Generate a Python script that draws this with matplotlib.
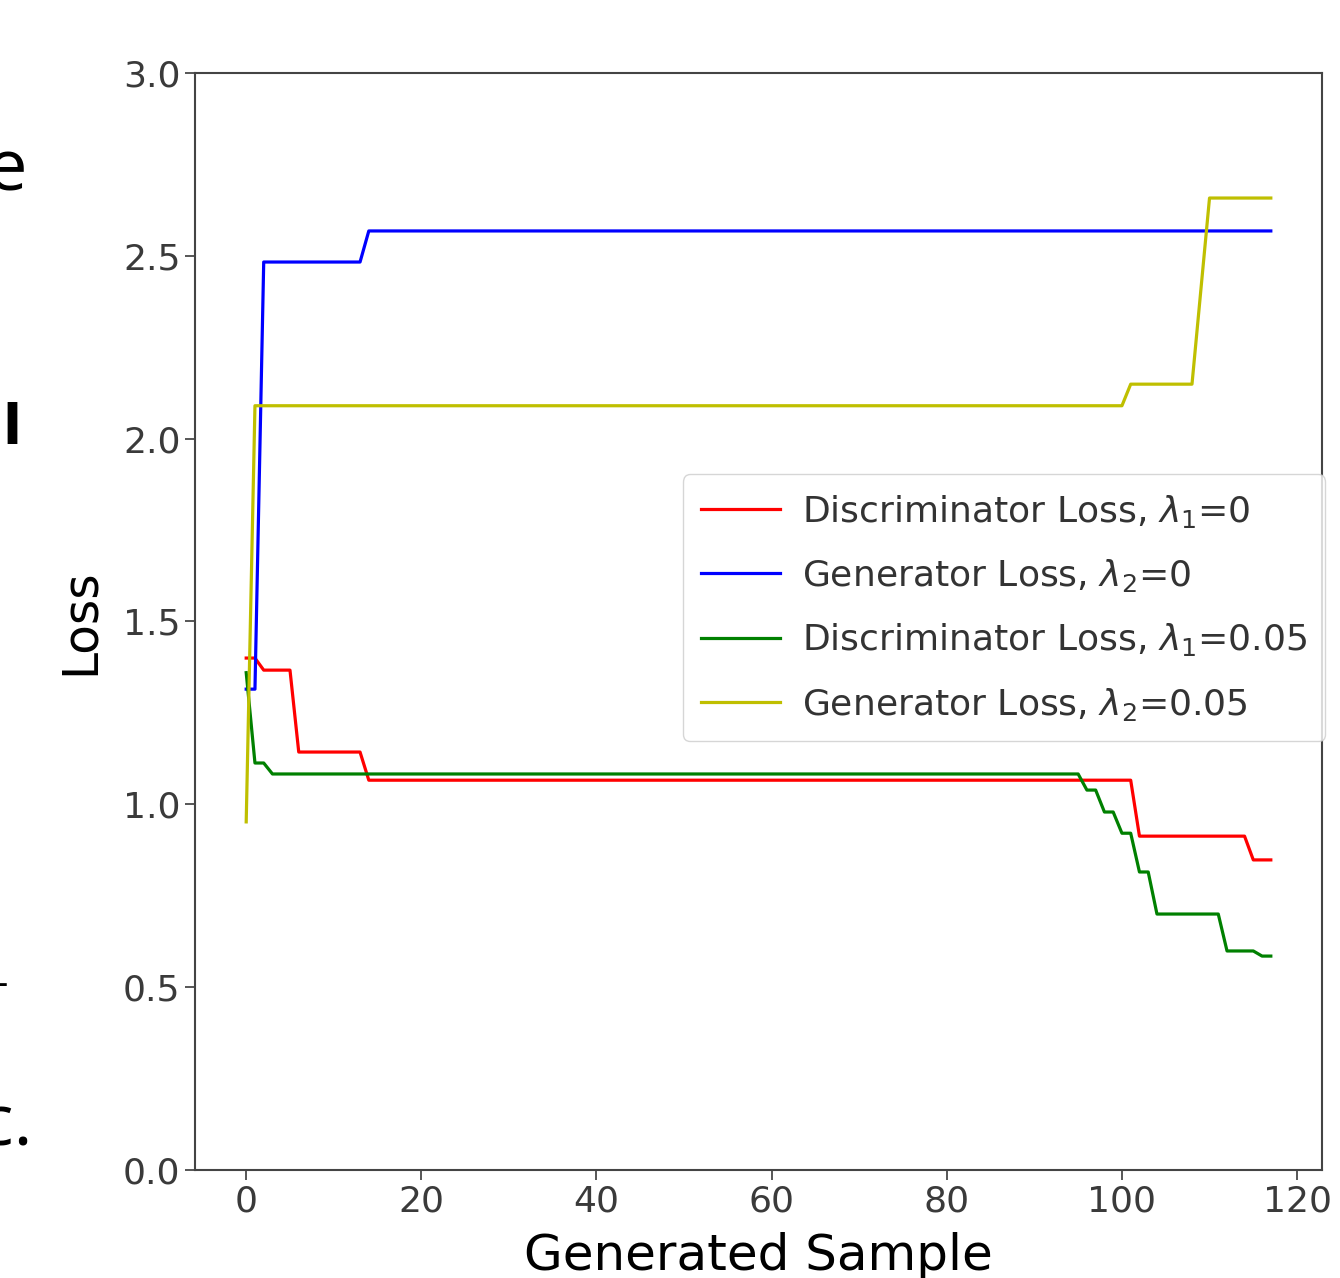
import numpy as np
import matplotlib
matplotlib.use('Agg')
import matplotlib.pyplot as plt

# Các đỉnh của đường bậc thang
d0_x = [0, 1, 2, 5, 6, 13, 14, 101, 102, 114, 115, 117]
d0_y = [1.40, 1.40, 1.367, 1.367, 1.143, 1.143, 1.066, 1.066, 0.913, 0.913, 0.848, 0.848]

g0_x = [0, 1, 2, 13, 14, 117]
g0_y = [1.315, 1.315, 2.483, 2.483, 2.568, 2.568]

d05_x = [0, 1, 2, 3, 95, 96, 97, 98, 99, 100, 101, 102, 103, 104, 111, 112, 115, 116, 117]
d05_y = [1.36, 1.113, 1.113, 1.083, 1.083, 1.039, 1.039, 0.979, 0.979, 0.921, 0.921,
         0.815, 0.815, 0.700, 0.700, 0.599, 0.599, 0.585, 0.585]

g05_x = [0, 1, 100, 101, 108, 110, 117]
g05_y = [0.952, 2.09, 2.09, 2.149, 2.149, 2.658, 2.658]

labels = [r'Discriminator Loss, $\lambda_1$=0',
          r'Generator Loss, $\lambda_2$=0',
          r'Discriminator Loss, $\lambda_1$=0.05',
          r'Generator Loss, $\lambda_2$=0.05']
colors = ['r', 'b', 'g', 'y']

xticks = [0, 20, 40, 60, 80, 100, 120]
yticks = [0.0, 0.5, 1.0, 1.5, 2.0, 2.5, 3.0]

fig = plt.figure(figsize=(13.4, 12.78), dpi=100)
ax = fig.add_axes([0.1455, 0.0845, 0.8411, 0.8584])

series = [(d0_x, d0_y), (g0_x, g0_y), (d05_x, d05_y), (g05_x, g05_y)]
for (xs, ys), c, lab in zip(series, colors, labels):
    ax.plot(xs, ys, color=c, lw=2.3, label=lab)

ax.set_ylim(0, 3.0)
ax.set_xticks(xticks)
ax.set_yticks(yticks)
ax.set_yticklabels(['%.1f' % v for v in yticks])
ax.tick_params(labelsize=26, length=7, width=1.2, colors='#3a3a3a', labelcolor='#3a3a3a')
for sp in ax.spines.values():
    sp.set_color('#444444')
    sp.set_linewidth(1.5)

ax.set_xlabel('Generated Sample', fontsize=36, labelpad=10)
ax.set_ylabel('Loss', fontsize=35, labelpad=14)

leg = ax.legend(loc='upper left', bbox_to_anchor=(0.433, 0.634), borderaxespad=0,
                fontsize=26, handlelength=2.2, handletextpad=0.6, labelspacing=0.76,
                borderpad=0.5, frameon=True, fancybox=True, framealpha=0.8)
for t in leg.get_texts():
    t.set_color('#333333')

# mảnh chữ bị cắt ở mép trái của ảnh chụp
frag = dict(color='black', va='center', family=['Open Sans', 'DejaVu Sans'])
fig.text(-0.010, 0.866, 'e', fontsize=52, **frag)
fig.text(0.002, 0.664, 'l', fontsize=40, color='black', fontweight='bold', va='center')
fig.text(-0.004, 0.229, '-', fontsize=30, **frag)
fig.text(-0.016, 0.118, 'c.', fontsize=52, **frag)

fig.savefig('out.png', dpi=100)
